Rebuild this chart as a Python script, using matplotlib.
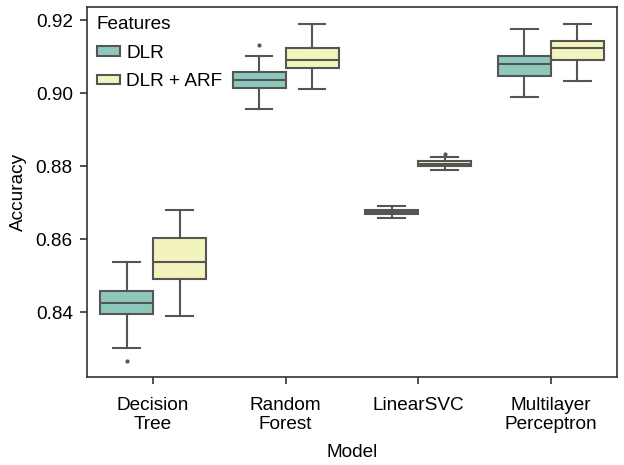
import matplotlib.pyplot as plt
from matplotlib.patches import Patch

plt.rcParams["font.family"] = ["Liberation Sans", "DejaVu Sans"]

models = ["Decision\nTree", "Random\nForest", "LinearSVC", "Multilayer\nPerceptron"]
features = ["DLR", "DLR + ARF"]
colors = ["#8ec8bc", "#f3f3bd"]
line_color = "#555555"

# five-number summaries: low whisker, q1, median, q3, high whisker
dlr_stats = [
    [0.8302, 0.8395, 0.8426, 0.8458, 0.8536],
    [0.8956, 0.9015, 0.9035, 0.9057, 0.9101],
    [0.8657, 0.8668, 0.8674, 0.8680, 0.8690],
    [0.8989, 0.9046, 0.9080, 0.9101, 0.9177],
]
arf_stats = [
    [0.8389, 0.8490, 0.8536, 0.8602, 0.8680],
    [0.9012, 0.9070, 0.9090, 0.9123, 0.9189],
    [0.8789, 0.8801, 0.8807, 0.8813, 0.8824],
    [0.9034, 0.9090, 0.9123, 0.9144, 0.9189],
]
dlr_outliers = [[0.8267], [0.9132], [], []]
arf_outliers = [[], [], [0.8834], []]

FS = 13.7


def make_stats(rows, outliers):
    out = []
    for (lo, q1, med, q3, hi), fl in zip(rows, outliers):
        out.append({"whislo": lo, "q1": q1, "med": med, "q3": q3, "whishi": hi, "fliers": fl})
    return out


fig, ax = plt.subplots(figsize=(6.24, 4.65), dpi=100)
fig.subplots_adjust(left=0.139, right=0.989, top=0.985, bottom=0.189)

groups = [(dlr_stats, dlr_outliers, -0.2), (arf_stats, arf_outliers, 0.2)]
for (rows, fl, offset), color in zip(groups, colors):
    positions = [i + offset for i in range(len(models))]
    ax.bxp(
        make_stats(rows, fl),
        positions=positions,
        widths=0.4,
        patch_artist=True,
        manage_ticks=False,
        boxprops=dict(facecolor=color, edgecolor=line_color, linewidth=1.5),
        medianprops=dict(color=line_color, linewidth=1.5),
        whiskerprops=dict(color=line_color, linewidth=1.5),
        capprops=dict(color=line_color, linewidth=1.5),
        flierprops=dict(marker="o", markersize=2, markerfacecolor=line_color,
                        markeredgecolor=line_color),
        capwidths=0.2,
    )

ax.set_xlim(-0.5, 3.5)
ax.set_ylim(0.8222, 0.9236)
ax.set_xticks(range(len(models)))
ax.set_xticklabels(models, fontsize=FS, linespacing=1.15)
ax.set_yticks([0.84, 0.86, 0.88, 0.90, 0.92])
ax.set_yticklabels(["0.84", "0.86", "0.88", "0.90", "0.92"], fontsize=FS)
ax.set_xlabel("Model", fontsize=FS, labelpad=8)
ax.set_ylabel("Accuracy", fontsize=FS, labelpad=6)
for spine in ax.spines.values():
    spine.set_color("#333333")
    spine.set_linewidth(1.2)
ax.tick_params(colors="#333333", labelcolor="black", width=1.2, length=5, pad=5)
ax.tick_params(axis="x", pad=9)

handles = [Patch(facecolor=c, edgecolor=line_color, linewidth=1.5) for c in colors]
ax.legend(handles, features, title="Features", loc="upper left", frameon=False,
          bbox_to_anchor=(0.008, 0.99), borderaxespad=0,
          fontsize=FS, title_fontsize=FS, alignment="left",
          handlelength=1.2, handleheight=0.4, handletextpad=0.35,
          borderpad=0.3, labelspacing=0.6)

fig.savefig("out.png", dpi=100)
